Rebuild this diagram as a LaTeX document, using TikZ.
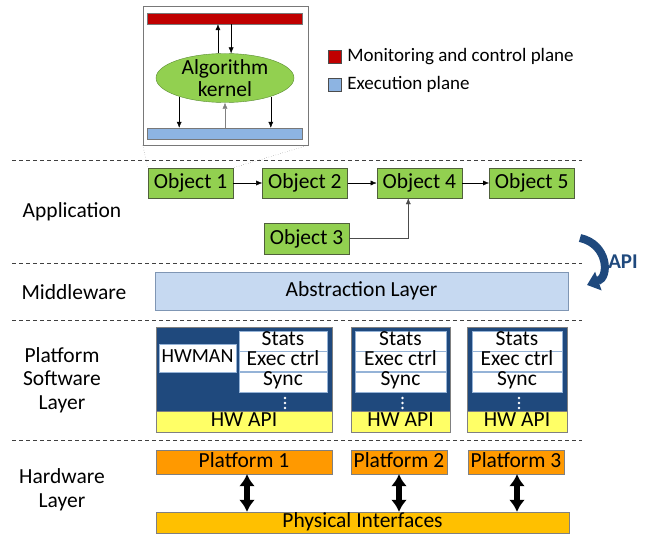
\documentclass[tikz,border=0pt]{standalone}
\usepackage{fontspec}
\setmainfont{Carlito}
\usetikzlibrary{shapes.geometric,arrows.meta,positioning}
\definecolor{ctrlred}{RGB}{192,0,0}
\definecolor{execblue}{RGB}{141,180,226}
\definecolor{objgreen}{RGB}{146,208,80}
\definecolor{objborder}{RGB}{80,96,60}
\definecolor{kernelborder}{RGB}{90,140,50}
\definecolor{absblue}{RGB}{198,217,241}
\definecolor{absborder}{RGB}{127,150,180}
\definecolor{hwblue}{RGB}{31,73,125}
\definecolor{cellborder}{RGB}{149,179,215}
\definecolor{hwyellow}{RGB}{255,255,102}
\definecolor{platorange}{RGB}{255,153,0}
\definecolor{physorange}{RGB}{255,192,0}
\definecolor{zoomgray}{RGB}{120,120,120}
\newcommand{\mainsize}{\fontsize{21.5}{23}\selectfont}
\newcommand{\legendsize}{\fontsize{19}{21}\selectfont}
\tikzset{
  layer/.style={align=center, font=\fontsize{21.5}{23.5}\selectfont},
  obj/.style={rectangle, draw=objborder, fill=objgreen, minimum width=85,
    minimum height=30, inner sep=0, font=\mainsize},
  plane/.style={rectangle, draw=zoomgray, minimum width=155, minimum height=11, inner sep=0},
  legbox/.style={rectangle, draw=black!70, minimum size=13, inner sep=0},
  legtext/.style={inner sep=0, anchor=west, font=\legendsize},
  arrow/.style={draw, -{Latex[length=6pt,width=5pt]}},
  sep/.style={draw=black!75, dash pattern=on 4pt off 3pt, line width=0.8pt},
  swbox/.style={rectangle, fill=hwblue, draw=gray, minimum height=105, inner sep=0},
  cell/.style={rectangle, fill=white, draw=cellborder, inner sep=0, minimum height=20,
    text height=13, text depth=5, font=\mainsize},
  hwapi/.style={rectangle, fill=hwyellow, draw=gray, inner sep=0, minimum height=21,
    text height=14, text depth=4, anchor=south, font=\mainsize},
  platform/.style={rectangle, fill=platorange, draw=gray, inner sep=0, minimum height=24,
    text height=14, text depth=4, font=\mainsize},
  bigarrow/.style={line width=5.5pt, {Latex[length=12pt,width=16pt]}-{Latex[length=12pt,width=16pt]}},
}

\begin{document}
\begin{tikzpicture}[x=1pt, y=-1pt]
  \useasboundingbox (0,0) rectangle (645,535);

  % zoomed view of an object
  \node[draw=zoomgray, fill=white, minimum width=165, minimum height=139, inner sep=0] (zoom) at (225.5,75.5) {};
  \node[plane, fill=ctrlred] (ctrl) at (225,18.5) {};
  \node[plane, fill=execblue] (exec) at (224.5,133.5) {};
  \node[ellipse, draw=kernelborder, fill=objgreen, minimum width=138, minimum height=49, inner sep=0] (kernel) at (225,78) {};
  \node[align=center, font=\fontsize{21.5}{22}\selectfont] at (kernel) {Algorithm\\kernel};
  \draw[arrow] (kernel.106) -- (kernel.106 |- ctrl.south);
  \draw[arrow] (ctrl.south -| kernel.76) -- (kernel.76);
  \draw[arrow] (kernel.202) -- (kernel.202 |- exec.north);
  \draw[arrow, draw=gray] (exec.north -| kernel.south) -- (kernel.south);
  \draw[arrow] (kernel.338) -- (kernel.338 |- exec.north);

  % legend
  \node[legbox, fill=ctrlred] (legctrl) at (334.5,56.5) {};
  \node[legtext, right=6 of legctrl] {Monitoring and control plane};
  \node[legbox, fill=execblue] (legexec) at (334.5,84.5) {};
  \node[legtext, right=6 of legexec] {Execution plane};

  % layer separators and names
  \foreach \y in {160,263,320,440}
    \draw[sep] (12,\y) -- (582,\y);
  \node[layer] (app) at (72,212) {Application};
  \node[layer] (mid) at (74,292) {Middleware};
  \node[layer] (psw) at (62,380) {Platform\\Software\\Layer};
  \node[layer] (hwl) at (62,490) {Hardware\\Layer};

  % application
  \node[obj] (obj1) at (190.5,183) {Object 1};
  \node[obj, right=29 of obj1] (obj2) {Object 2};
  \node[obj, right=29 of obj2] (obj4) {Object 4};
  \node[obj, right=27 of obj4] (obj5) {Object 5};
  \node[obj, minimum height=31] (obj3) at (306.5,238.5) {Object 3};
  \draw[arrow] (obj1) -- (obj2);
  \draw[arrow] (obj2) -- (obj4);
  \draw[arrow] (obj4) -- (obj5);
  \draw[arrow, draw=black!70] (obj3.east) -| ([xshift=-11]obj4.south);
  \draw[dotted, zoomgray] (zoom.south west) -- (obj1.north west);
  \draw[dotted, zoomgray] (zoom.south east) -- (obj1.north east);

  % middleware
  \node[rectangle, fill=absblue, draw=absborder, minimum width=413, minimum height=38,
    inner sep=0, font=\mainsize] (abs) at (361.5,291) {Abstraction Layer};
  \node[font=\bfseries\fontsize{21}{23}\selectfont, text=hwblue] (api) at (623,262) {API};
  \draw[hwblue, line width=8pt, -{Triangle[length=12pt,width=19pt]}]
    (580,238) .. controls (608,244) and (610,277) .. (587,285);

  % platform software layer
  \foreach \n/\x/\w/\cw/\dx in {1/244/176/88/5, 2/400.5/99/91/4, 3/517/100/90/5} {
    \node[swbox, minimum width=\w] (sw\n) at (\x,379.5) {};
    \node[hwapi, minimum width=\w] (hwapi\n) at (sw\n.south) {HW API};
    \node[cell, minimum width=\cw, anchor=north east] (stats\n) at ([xshift=-\dx, yshift=-4]sw\n.north east) {Stats};
    \node[cell, minimum width=\cw, below=0 of stats\n] (ctrl\n) {Exec ctrl};
    \node[cell, minimum width=\cw, below=0 of ctrl\n] (sync\n) {Sync};
    \foreach \d in {6,11,16}
      \fill[white] ([xshift=2, yshift=-\d]sync\n.south) circle (1.3);
  }
  \node[cell, minimum width=77, minimum height=28, font=\fontsize{20}{22}\selectfont] (hwman) at (197.5,358) {HWMAN};

  % hardware layer
  \node[platform, minimum width=176] (plat1) at (244,462) {Platform 1};
  \node[platform, minimum width=96] (plat2) at (399,462) {Platform 2};
  \node[platform, minimum width=96] (plat3) at (516,462) {Platform 3};
  \node[platform, fill=physorange, minimum width=413, minimum height=21] (phys) at (362.5,522.5) {Physical Interfaces};
  \draw[bigarrow] ([xshift=3]plat1.south) -- ([xshift=3]plat1.south |- phys.north);
  \draw[bigarrow] (plat2.south) -- (plat2.south |- phys.north);
  \draw[bigarrow] ([xshift=1]plat3.south) -- ([xshift=1]plat3.south |- phys.north);
\end{tikzpicture}
\end{document}
